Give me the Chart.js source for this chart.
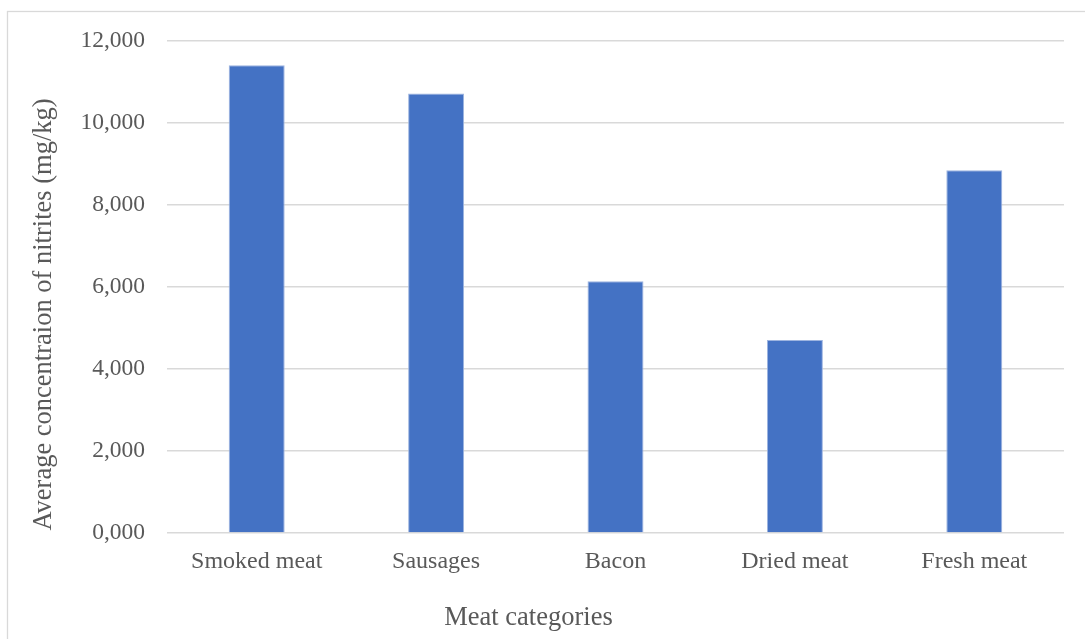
<!DOCTYPE html>
<html>
<head>
<meta charset="utf-8">
<script src="https://cdn.jsdelivr.net/npm/chart.js@4.4.1/dist/chart.umd.min.js"></script>
<style>
  html, body { margin: 0; padding: 0; background: #ffffff; }
  #wrap { width: 1085px; height: 639px; overflow: hidden; }
</style>
</head>
<body>
<div id="wrap"><canvas id="c" width="1085" height="639"></canvas></div>
<script>
const categories = ['Smoked meat', 'Sausages', 'Bacon', 'Dried meat', 'Fresh meat'];
const nitriteValues = [11410, 10720, 6140, 4710, 8850];
const yTickValues = [0, 2000, 4000, 6000, 8000, 10000, 12000];
const yTickLabels = ['0,000', '2,000', '4,000', '6,000', '8,000', '10,000', '12,000'];
const xAxisTitle = 'Meat categories';
const yAxisTitle = 'Average concentraion of nitrites (mg/kg)';

const FONT = '"Liberation Serif", "Times New Roman", serif';
const TEXT = '#595959';
const GRID = '#d9d9d9';

const frameAndTitles = {
  id: 'frameAndTitles',
  beforeDraw(chart) {
    const ctx = chart.ctx;
    ctx.save();
    ctx.fillStyle = '#ffffff';
    ctx.fillRect(0, 0, chart.width, chart.height);
    ctx.strokeStyle = GRID;
    ctx.lineWidth = 1.3;
    ctx.strokeRect(7.5, 11.5, 1200, 800);
    ctx.restore();
  },
  afterDraw(chart) {
    const ctx = chart.ctx;
    const area = chart.chartArea;
    ctx.save();
    ctx.fillStyle = TEXT;
    ctx.font = '26.5px ' + FONT;
    ctx.textAlign = 'center';
    ctx.textBaseline = 'middle';
    // x-axis title
    ctx.fillText(xAxisTitle, 528.5, area.bottom + 85);
    // y-axis title
    ctx.translate(44, 314.5);
    ctx.rotate(-Math.PI / 2);
    ctx.fillText(yAxisTitle, 0, 0);
    ctx.restore();
  }
};

new Chart(document.getElementById('c'), {
  type: 'bar',
  data: {
    labels: categories,
    datasets: [{
      data: nitriteValues,
      backgroundColor: '#4472c4',
      borderColor: '#9db4e0',
      borderWidth: 1,
      barPercentage: 0.312,
      categoryPercentage: 1.0
    }]
  },
  options: {
    responsive: false,
    animation: false,
    devicePixelRatio: 1,
    layout: { padding: { top: 41, right: 21, left: 0, bottom: 0 } },
    plugins: {
      legend: { display: false },
      tooltip: { enabled: false },
      title: { display: false }
    },
    scales: {
      x: {
        grid: { display: false, drawTicks: false },
        border: { display: false },
        ticks: {
          color: TEXT,
          font: { family: FONT, size: 24 },
          padding: 14,
          maxRotation: 0,
          autoSkip: false
        },
        afterFit(scale) { scale.height = 106; }
      },
      y: {
        min: 0,
        max: 12000,
        afterBuildTicks(scale) {
          scale.ticks = yTickValues.map(v => ({ value: v }));
        },
        grid: { color: GRID, lineWidth: 1.4, drawTicks: false },
        border: { display: false },
        ticks: {
          color: TEXT,
          font: { family: FONT, size: 23.5 },
          padding: 22,
          callback(value) {
            const i = yTickValues.indexOf(value);
            return i >= 0 ? yTickLabels[i] : '';
          }
        },
        afterFit(scale) { scale.width = 167; }
      }
    }
  },
  plugins: [frameAndTitles]
});
</script>
</body>
</html>
